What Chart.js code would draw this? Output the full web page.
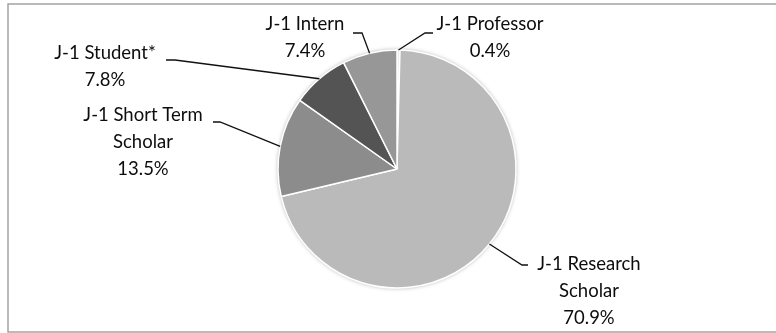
<!DOCTYPE html>
<html lang="en">
<head>
    <meta charset="UTF-8">
    <title>J-1 categories</title>
    <style>
        body { margin: 0; background: #ffffff; }
        .wrap { width: 776px; height: 333px; position: relative; }
    </style>
    <script src="https://cdn.jsdelivr.net/npm/chart.js"></script>
</head>
<body>
    <div class="wrap">
        <canvas id="pieChart"></canvas>
    </div>

    <script>
        // data (percent of total)
        const categories = ['J-1 Professor', 'J-1 Research Scholar', 'J-1 Short Term Scholar', 'J-1 Student*', 'J-1 Intern'];
        const shares = [0.4, 70.9, 13.5, 7.8, 7.4];
        // which labels break the name onto two lines
        const wrapName = [false, true, true, false, false];

        const sliceColors = ['#ececec', '#bababa', '#8c8c8c', '#545454', '#979797'];
        const FONT = '18.5px Lato';

        // label box placement: text centre x, first line y, leader elbow and end
        const labelPos = [
            { x: 490, y: 24, elbow: [425, 33], end: [433, 33] },
            { x: 589, y: 264, elbow: [522, 265], end: [528, 265] },
            { x: 143, y: 115, elbow: [220, 122], end: [213, 122] },
            { x: 105, y: 53, elbow: [175, 60], end: [166, 60] },
            { x: 305, y: 24, elbow: [362, 33], end: [353, 33] }
        ];
        const lineGap = 27;

        function splitName(name, wrap) {
            if (!wrap) return [name];
            const i = name.lastIndexOf(' ');
            return [name.slice(0, i), name.slice(i + 1)];
        }

        const framePlugin = {
            id: 'frame',
            beforeDraw(chart) {
                const c = chart.ctx;
                c.save();
                c.strokeStyle = '#a3a3a3';
                c.lineWidth = 1.5;
                c.strokeRect(8, 4, 800, 328);
                c.restore();
            },
            beforeDatasetsDraw(chart) {
                // soft shadow under the pie
                const arc = chart.getDatasetMeta(0).data[0];
                const c = chart.ctx;
                c.save();
                c.shadowColor = 'rgba(0,0,0,0.35)';
                c.shadowBlur = 4;
                c.fillStyle = '#bababa';
                c.beginPath();
                c.arc(arc.x, arc.y, arc.outerRadius, 0, Math.PI * 2);
                c.fill();
                c.restore();
            }
        };

        const labelPlugin = {
            id: 'leaderLabels',
            afterDatasetsDraw(chart) {
                const c = chart.ctx;
                const meta = chart.getDatasetMeta(0);
                const total = shares.reduce((a, b) => a + b, 0);
                c.save();
                c.font = FONT;
                c.fillStyle = '#0d0d0d';
                c.strokeStyle = '#111111';
                c.lineWidth = 1.3;
                c.textAlign = 'center';
                c.textBaseline = 'middle';
                meta.data.forEach((arc, i) => {
                    const p = arc.getProps(['x', 'y', 'startAngle', 'endAngle', 'outerRadius']);
                    const mid = (p.startAngle + p.endAngle) / 2;
                    const sx = p.x + Math.cos(mid) * p.outerRadius;
                    const sy = p.y + Math.sin(mid) * p.outerRadius;
                    const L = labelPos[i];
                    c.beginPath();
                    c.moveTo(sx, sy);
                    c.lineTo(L.elbow[0], L.elbow[1]);
                    c.lineTo(L.end[0], L.end[1]);
                    c.stroke();
                    const lines = splitName(categories[i], wrapName[i]);
                    lines.push((shares[i] / total * 100).toFixed(1) + '%');
                    lines.forEach((t, k) => c.fillText(t, L.x, L.y + k * lineGap));
                });
                c.restore();
            }
        };

        new Chart(document.getElementById('pieChart'), {
            type: 'pie',
            data: {
                labels: categories,
                datasets: [{
                    data: shares,
                    backgroundColor: sliceColors,
                    borderColor: '#ffffff',
                    borderWidth: 1.5,
                    hoverOffset: 0
                }]
            },
            options: {
                responsive: true,
                maintainAspectRatio: false,
                animation: false,
                events: [],
                radius: 119,
                layout: { padding: { left: 18, top: 5, right: 0, bottom: 0 } },
                plugins: {
                    legend: { display: false },
                    tooltip: { enabled: false }
                }
            },
            plugins: [framePlugin, labelPlugin]
        });
    </script>
</body>
</html>
